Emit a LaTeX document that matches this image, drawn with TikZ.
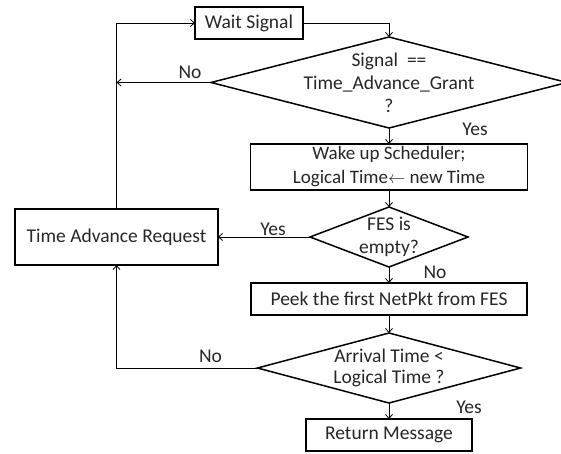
\documentclass[tikz,border=0pt]{standalone}
\usepackage{fontspec}
\setmainfont{Carlito}
\usetikzlibrary{shapes.geometric,positioning,arrows.meta}

\begin{document}
\begin{tikzpicture}[x=1pt, y=1pt, node distance=16pt, >={Straight Barb[length=4pt,width=7pt]},
  font=\fontsize{19.5}{23}\selectfont, text=black!85]
\tikzstyle{block}=[draw, line width=1.5pt, inner sep=0pt, outer sep=0pt, align=center]
\tikzstyle{decision}=[draw, diamond, line width=1.5pt, inner sep=0pt, outer sep=0pt]
\tikzstyle{lbl}=[inner sep=0pt, anchor=base]
\tikzstyle{link}=[->, line width=0.8pt]
\useasboundingbox (0,0) rectangle (561,-453);

\node[block, minimum width=108pt, minimum height=32pt] (wait) at (249,-23) {Wait Signal};
\node[decision, minimum width=356pt, minimum height=91pt,
      label={[align=center]center:Signal~~==\\Time\_Advance\_Grant\\?}] (grant) at (389,-82.5) {};
\node[block, minimum width=277pt, minimum height=46pt, font=\fontsize{19}{24}\selectfont] (wake) [below=16pt of grant]
      {Wake up Scheduler;\\Logical Time$\leftarrow$ new Time};
\node[decision, minimum width=158pt, minimum height=60pt,
      label={[align=center]center:FES is\\empty?}] (fes) [below=17pt of wake] {};
\node[block, minimum width=203pt, minimum height=56pt] (tar) [left=92pt of fes] {Time Advance Request};
\node[block, minimum width=276pt, minimum height=32pt] (peek) [below=16pt of fes] {Peek the first NetPkt from FES};
\node[decision, minimum width=263pt, minimum height=70pt,
      label={[align=center, font=\fontsize{19.5}{20.5}\selectfont]center:Arrival Time <\\Logical Time ?}] (arr) [below=18pt of peek] {};
\node[block, minimum width=166pt, minimum height=32pt] (ret) [below=16pt of arr] {Return Message};

% branch labels
\node[lbl] (no1)  at ([xshift=-21pt,yshift=4pt]grant.west) {No};
\node[lbl] (yes1) at ([xshift=86pt,yshift=-7pt]grant.south) {Yes};
\node[lbl] (yes2) at ([xshift=-37pt,yshift=2pt]fes.west) {Yes};
\node[lbl] (no2)  at ([xshift=46pt,yshift=-11pt]fes.south) {No};
\node[lbl] (no3)  at ([xshift=-47pt,yshift=6pt]arr.west) {No};
\node[lbl] (yes3) at ([xshift=80pt,yshift=-10pt]arr.south) {Yes};

\foreach \a/\b in {grant/wake, wake/fes, fes/peek, peek/arr, arr/ret}
{\path[link] (\a) edge (\b);}
\draw[link] (wait) -| (grant);
\draw[link] (grant) -- (grant.west -| tar.north);
\draw[link] (tar) |- (wait);
\draw[link] (fes) -- (tar);
\draw[link] (arr) -| (tar);
\end{tikzpicture}
\end{document}
